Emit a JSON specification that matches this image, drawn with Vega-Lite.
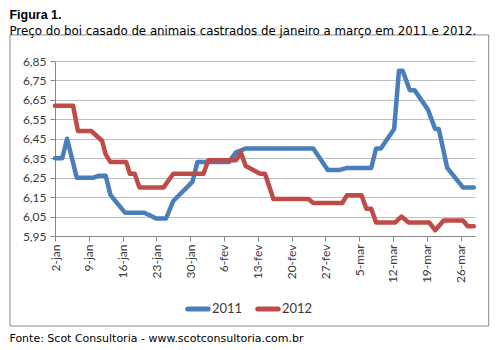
{
  "$schema": "https://vega.github.io/schema/vega-lite/v6.json",
  "background": "white",
  "padding": {"left": 9, "top": 9, "right": 5, "bottom": 4},
  "title": {
    "text": "Figura 1.",
    "subtitle": "Preço do boi casado de animais castrados  de janeiro a março em 2011 e 2012.",
    "anchor": "start",
    "frame": "bounds",
    "font": "Liberation Sans",
    "fontSize": 12.5,
    "fontWeight": "bold",
    "color": "#000000",
    "subtitleFont": "DejaVu Sans",
    "subtitleFontSize": 11.8,
    "subtitleColor": "#000000",
    "subtitlePadding": 4,
    "offset": -3
  },
  "vconcat": [
    {
      "width": 420,
      "height": 175,
      "title": {
        "text": "Fonte: Scot Consultoria - www.scotconsultoria.com.br",
        "orient": "bottom",
        "anchor": "start",
        "frame": "bounds",
        "font": "DejaVu Sans",
        "fontSize": 11,
        "fontWeight": "normal",
        "color": "#000000",
        "offset": 6
      },
      "layer": [
        {
          "data": {"values": [{}]},
          "mark": {"type": "rect", "fill": null, "stroke": "#8c8c8c", "strokeWidth": 1, "clip": false},
          "encoding": {
            "x": {"datum": {"year": 2011, "month": 12, "date": 23, "hours": 16}, "type": "temporal",
                  "scale": {"domain": [{"year": 2012, "month": 1, "date": 2}, {"year": 2012, "month": 3, "date": 29}], "nice": false},
                  "axis": {
                    "title": null,
                    "values": [
                      {"year": 2012, "month": 1, "date": 2},
                      {"year": 2012, "month": 1, "date": 9},
                      {"year": 2012, "month": 1, "date": 16},
                      {"year": 2012, "month": 1, "date": 23},
                      {"year": 2012, "month": 1, "date": 30},
                      {"year": 2012, "month": 2, "date": 6},
                      {"year": 2012, "month": 2, "date": 13},
                      {"year": 2012, "month": 2, "date": 20},
                      {"year": 2012, "month": 2, "date": 27},
                      {"year": 2012, "month": 3, "date": 5},
                      {"year": 2012, "month": 3, "date": 12},
                      {"year": 2012, "month": 3, "date": 19},
                      {"year": 2012, "month": 3, "date": 26}
                    ],
                    "labelExpr": "date(datum.value) + '-' + ['jan','fev','mar','abr'][month(datum.value)]",
                    "labelOverlap": false,
                    "labelFlush": false,
                    "grid": false
                  }},
            "x2": {"datum": {"year": 2012, "month": 3, "date": 31, "hours": 20}},
            "y": {"datum": 5.487, "type": "quantitative",
                  "scale": {"domain": [5.95, 6.85], "nice": false, "zero": false},
                  "axis": {
                    "title": null,
                    "values": [5.95, 6.05, 6.15, 6.25, 6.35, 6.45, 6.55, 6.65, 6.75, 6.85],
                    "labelExpr": "replace(format(datum.value, '.2f'), '.', ',')",
                    "labelOverlap": false,
                    "labelFlush": false,
                    "grid": true
                  }},
            "y2": {"datum": 6.984}
          }
        },
        {
          "data": {"values": [
            {"dia": "2012-01-02T00:00", "ano": "2011", "preco": 6.35},
            {"dia": "2012-01-03T12:00", "ano": "2011", "preco": 6.35},
            {"dia": "2012-01-04T12:00", "ano": "2011", "preco": 6.45},
            {"dia": "2012-01-06T12:00", "ano": "2011", "preco": 6.25},
            {"dia": "2012-01-10T00:00", "ano": "2011", "preco": 6.25},
            {"dia": "2012-01-11T00:00", "ano": "2011", "preco": 6.26},
            {"dia": "2012-01-12T12:00", "ano": "2011", "preco": 6.26},
            {"dia": "2012-01-13T12:00", "ano": "2011", "preco": 6.16},
            {"dia": "2012-01-16T12:00", "ano": "2011", "preco": 6.07},
            {"dia": "2012-01-20T12:00", "ano": "2011", "preco": 6.07},
            {"dia": "2012-01-23T00:00", "ano": "2011", "preco": 6.04},
            {"dia": "2012-01-25T00:00", "ano": "2011", "preco": 6.04},
            {"dia": "2012-01-26T12:00", "ano": "2011", "preco": 6.13},
            {"dia": "2012-01-30T12:00", "ano": "2011", "preco": 6.23},
            {"dia": "2012-01-31T12:00", "ano": "2011", "preco": 6.33},
            {"dia": "2012-02-07T00:00", "ano": "2011", "preco": 6.33},
            {"dia": "2012-02-08T12:00", "ano": "2011", "preco": 6.38},
            {"dia": "2012-02-10T12:00", "ano": "2011", "preco": 6.40},
            {"dia": "2012-02-24T12:00", "ano": "2011", "preco": 6.40},
            {"dia": "2012-02-27T12:00", "ano": "2011", "preco": 6.29},
            {"dia": "2012-03-01T00:00", "ano": "2011", "preco": 6.29},
            {"dia": "2012-03-02T12:00", "ano": "2011", "preco": 6.30},
            {"dia": "2012-03-07T12:00", "ano": "2011", "preco": 6.30},
            {"dia": "2012-03-08T12:00", "ano": "2011", "preco": 6.40},
            {"dia": "2012-03-09T12:00", "ano": "2011", "preco": 6.40},
            {"dia": "2012-03-12T06:00", "ano": "2011", "preco": 6.50},
            {"dia": "2012-03-13T06:00", "ano": "2011", "preco": 6.80},
            {"dia": "2012-03-14T00:00", "ano": "2011", "preco": 6.80},
            {"dia": "2012-03-15T12:00", "ano": "2011", "preco": 6.70},
            {"dia": "2012-03-16T12:00", "ano": "2011", "preco": 6.70},
            {"dia": "2012-03-19T06:00", "ano": "2011", "preco": 6.60},
            {"dia": "2012-03-20T18:00", "ano": "2011", "preco": 6.50},
            {"dia": "2012-03-21T12:00", "ano": "2011", "preco": 6.50},
            {"dia": "2012-03-23T06:00", "ano": "2011", "preco": 6.30},
            {"dia": "2012-03-26T12:00", "ano": "2011", "preco": 6.20},
            {"dia": "2012-03-28T18:00", "ano": "2011", "preco": 6.20},
            {"dia": "2012-01-02T00:00", "ano": "2012", "preco": 6.62},
            {"dia": "2012-01-05T18:00", "ano": "2012", "preco": 6.62},
            {"dia": "2012-01-06T18:00", "ano": "2012", "preco": 6.49},
            {"dia": "2012-01-09T12:00", "ano": "2012", "preco": 6.49},
            {"dia": "2012-01-11T18:00", "ano": "2012", "preco": 6.44},
            {"dia": "2012-01-12T12:00", "ano": "2012", "preco": 6.37},
            {"dia": "2012-01-13T12:00", "ano": "2012", "preco": 6.33},
            {"dia": "2012-01-16T18:00", "ano": "2012", "preco": 6.33},
            {"dia": "2012-01-17T12:00", "ano": "2012", "preco": 6.27},
            {"dia": "2012-01-18T12:00", "ano": "2012", "preco": 6.27},
            {"dia": "2012-01-19T12:00", "ano": "2012", "preco": 6.20},
            {"dia": "2012-01-24T12:00", "ano": "2012", "preco": 6.20},
            {"dia": "2012-01-26T12:00", "ano": "2012", "preco": 6.27},
            {"dia": "2012-02-01T18:00", "ano": "2012", "preco": 6.27},
            {"dia": "2012-02-02T18:00", "ano": "2012", "preco": 6.34},
            {"dia": "2012-02-08T12:00", "ano": "2012", "preco": 6.34},
            {"dia": "2012-02-09T12:00", "ano": "2012", "preco": 6.38},
            {"dia": "2012-02-10T12:00", "ano": "2012", "preco": 6.31},
            {"dia": "2012-02-13T12:00", "ano": "2012", "preco": 6.27},
            {"dia": "2012-02-14T12:00", "ano": "2012", "preco": 6.27},
            {"dia": "2012-02-16T06:00", "ano": "2012", "preco": 6.14},
            {"dia": "2012-02-23T12:00", "ano": "2012", "preco": 6.14},
            {"dia": "2012-02-24T12:00", "ano": "2012", "preco": 6.12},
            {"dia": "2012-03-01T12:00", "ano": "2012", "preco": 6.12},
            {"dia": "2012-03-02T12:00", "ano": "2012", "preco": 6.16},
            {"dia": "2012-03-05T12:00", "ano": "2012", "preco": 6.16},
            {"dia": "2012-03-06T12:00", "ano": "2012", "preco": 6.09},
            {"dia": "2012-03-07T12:00", "ano": "2012", "preco": 6.09},
            {"dia": "2012-03-08T12:00", "ano": "2012", "preco": 6.02},
            {"dia": "2012-03-12T12:00", "ano": "2012", "preco": 6.02},
            {"dia": "2012-03-13T18:00", "ano": "2012", "preco": 6.05},
            {"dia": "2012-03-15T06:00", "ano": "2012", "preco": 6.02},
            {"dia": "2012-03-19T12:00", "ano": "2012", "preco": 6.02},
            {"dia": "2012-03-20T18:00", "ano": "2012", "preco": 5.98},
            {"dia": "2012-03-22T12:00", "ano": "2012", "preco": 6.03},
            {"dia": "2012-03-26T12:00", "ano": "2012", "preco": 6.03},
            {"dia": "2012-03-27T12:00", "ano": "2012", "preco": 6.00},
            {"dia": "2012-03-28T18:00", "ano": "2012", "preco": 6.00}
          ]},
          "mark": {"type": "line", "strokeWidth": 4.5, "strokeJoin": "round", "strokeCap": "round", "clip": false},
          "encoding": {
            "x": {
              "field": "dia", "type": "temporal",
              "scale": {"domain": [{"year": 2012, "month": 1, "date": 2}, {"year": 2012, "month": 3, "date": 29}], "nice": false},
              "axis": {
                "title": null,
                "values": [
                  {"year": 2012, "month": 1, "date": 2},
                  {"year": 2012, "month": 1, "date": 9},
                  {"year": 2012, "month": 1, "date": 16},
                  {"year": 2012, "month": 1, "date": 23},
                  {"year": 2012, "month": 1, "date": 30},
                  {"year": 2012, "month": 2, "date": 6},
                  {"year": 2012, "month": 2, "date": 13},
                  {"year": 2012, "month": 2, "date": 20},
                  {"year": 2012, "month": 2, "date": 27},
                  {"year": 2012, "month": 3, "date": 5},
                  {"year": 2012, "month": 3, "date": 12},
                  {"year": 2012, "month": 3, "date": 19},
                  {"year": 2012, "month": 3, "date": 26}
                ],
                "labelExpr": "date(datum.value) + '-' + ['jan','fev','mar','abr'][month(datum.value)]",
                "labelOverlap": false,
                "labelFlush": false,
                "grid": false
              }
            },
            "y": {
              "field": "preco", "type": "quantitative",
              "scale": {"domain": [5.95, 6.85], "nice": false, "zero": false},
              "axis": {
                "title": null,
                "values": [5.95, 6.05, 6.15, 6.25, 6.35, 6.45, 6.55, 6.65, 6.75, 6.85],
                "labelExpr": "replace(format(datum.value, '.2f'), '.', ',')",
                "labelOverlap": false,
                "labelFlush": false,
                "grid": true
              }
            },
            "color": {
              "field": "ano", "type": "nominal",
              "scale": {"domain": ["2011", "2012"], "range": ["#4a7ebb", "#be4b48"]},
              "legend": {
                "title": null,
                "orient": "none",
                "legendX": 130,
                "legendY": 235,
                "direction": "horizontal",
                "symbolType": "stroke",
                "symbolSize": 420,
                "symbolStrokeWidth": 5,
                "labelFont": "Lato",
                "labelFontSize": 13,
                "labelColor": "#3a3a3a",
                "labelOffset": 1,
                "columnPadding": 4,
                "encode": {"symbols": {"update": {"strokeCap": {"value": "round"}}}}
              }
            }
          }
        }
      ]
    }
  ],
  "config": {
    "view": {"stroke": null},
    "axisX": {
      "labelAngle": -90,
      "labelAlign": "right",
      "labelBaseline": "middle",
      "labelPadding": 3,
      "labelFont": "Lato",
      "labelFontSize": 12,
      "labelColor": "#3a3a3a",
      "domainColor": "#868686",
      "tickColor": "#868686",
      "tickSize": 5
    },
    "axisY": {
      "labelFont": "Lato",
      "labelFontSize": 12,
      "labelColor": "#3a3a3a",
      "labelPadding": 4,
      "gridColor": "#bebebe",
      "gridWidth": 1,
      "domainColor": "#868686",
      "tickColor": "#868686",
      "tickSize": 5
    }
  }
}
